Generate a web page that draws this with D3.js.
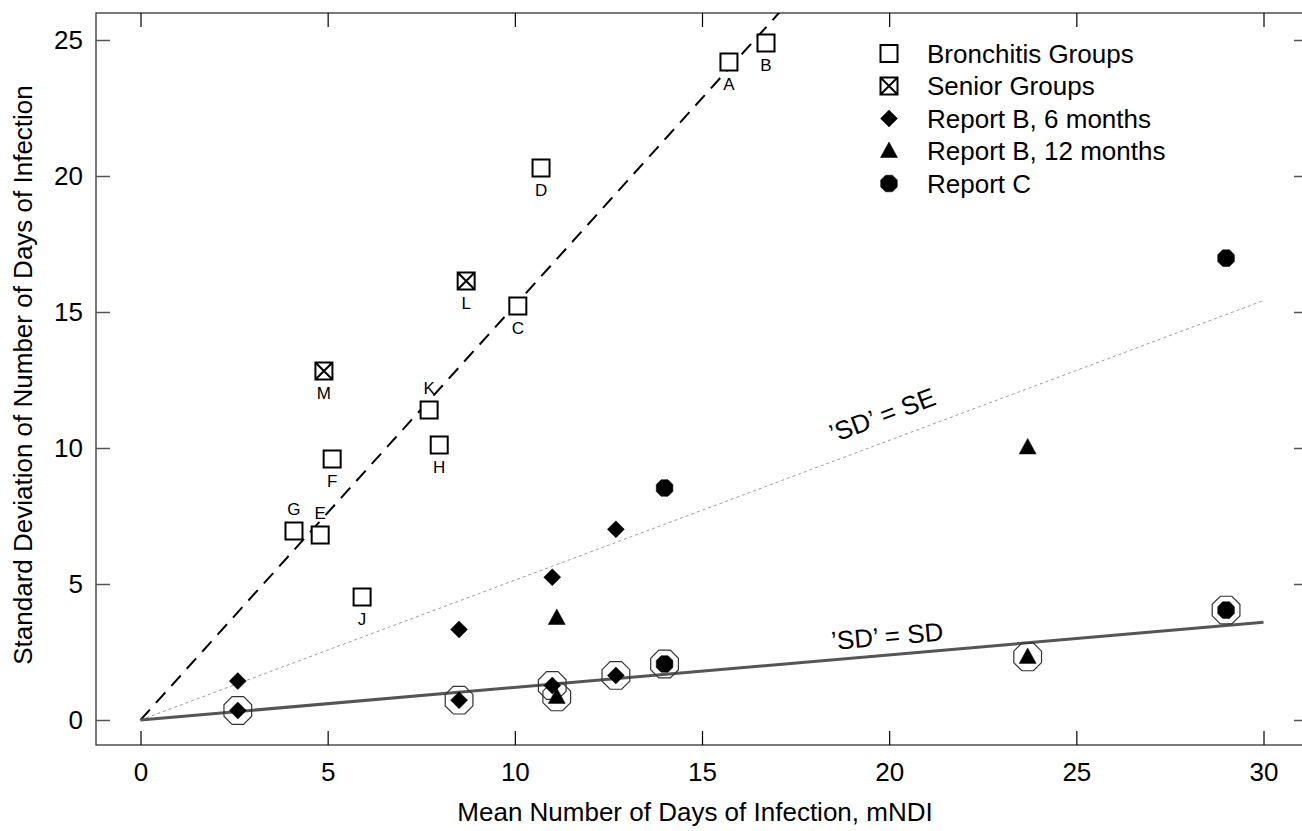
<!DOCTYPE html>
<html>
<head>
<meta charset="utf-8">
<script src="https://cdn.jsdelivr.net/npm/d3@7"></script>
<style>
  html, body { margin: 0; padding: 0; background: #fff; }
  svg { display: block; font-family: "Liberation Sans", Arial, sans-serif; }
</style>
</head>
<body>
<div id="chart"></div>
<script>
// Bronchitis groups (open squares)
const bronchLabels = ["A", "B", "C", "D", "E", "F", "G", "H", "J", "K"];
const bronchX = [15.72, 16.71, 10.08, 10.70, 4.80, 5.12, 4.10, 7.98, 5.92, 7.71];
const bronchY = [24.19, 24.89, 15.22, 20.29, 6.80, 9.60, 6.95, 10.11, 4.52, 11.40];
const labelsAbove = ["E", "G", "K"];

// Senior groups (crossed squares)
const seniorLabels = ["L", "M"];
const seniorX = [8.70, 4.90];
const seniorY = [16.14, 12.83];

// Report B, 6 months (diamonds); ringed = also marked with an octagon
const b6X = [2.6, 8.51, 11.0, 12.7, 2.6, 8.51, 11.0, 12.7];
const b6Y = [1.43, 3.33, 5.25, 7.01, 0.35, 0.73, 1.27, 1.64];
const b6Ringed = [false, false, false, false, true, true, true, true];

// Report B, 12 months (triangles)
const b12X = [11.12, 23.70, 11.12, 23.70];
const b12Y = [3.75, 10.02, 0.85, 2.32];
const b12Ringed = [false, false, true, true];

// Report C (filled octagons)
const cX = [14.0, 29.0, 14.0, 29.0];
const cY = [8.53, 16.98, 2.06, 4.04];
const cRinged = [false, false, true, true];

// reference lines through the origin: slope and end of x range
const lineNames = ["fit", "SE", "SD"];
const lineSlopes = [1.524, 0.514, 0.1197];
const lineXEnd = [30, 30, 30];
const lineLabels = [null, "’SD’ = SE", "’SD’ = SD"];
const lineLabelX = [null, 18.51, 18.47];
const lineLabelY = [null, 10.18, 2.57];

const xTicks = [0, 5, 10, 15, 20, 25, 30];
const yTicks = [0, 5, 10, 15, 20, 25];

const legendNames = ["Bronchitis Groups", "Senior Groups", "Report B, 6 months", "Report B, 12 months", "Report C"];
const legendShapes = ["square", "xsquare", "diamond", "triangle", "octagon"];

// Chart dimensions
const width = 1302;
const height = 831;
const frame = { left: 96, top: 13, right: 1308, bottom: 745 };

const svg = d3.select("#chart")
  .append("svg")
  .attr("width", width)
  .attr("height", height);

// Scales
const x = d3.scaleLinear().domain([0, 30]).range([140.5, 1263.5]);
const y = d3.scaleLinear().domain([0, 25]).range([720, 40]);

// marker path builders
function octagon(r) {
  const pts = d3.range(8).map(k => {
    const a = Math.PI / 8 + k * Math.PI / 4;
    return [r * Math.cos(a), r * Math.sin(a)];
  });
  return "M" + pts.map(p => p.join(",")).join("L") + "Z";
}
const shapePaths = {
  square: "M-8.5,-8.5H8.5V8.5H-8.5Z",
  xsquare: "M-8.5,-8.5H8.5V8.5H-8.5ZM-8.5,-8.5L8.5,8.5M8.5,-8.5L-8.5,8.5",
  diamond: "M0,-8.5L8.5,0L0,8.5L-8.5,0Z",
  triangle: "M0,-9L8.5,6.5L-8.5,6.5Z",
  octagon: octagon(9)
};
function drawShape(g, shape) {
  const open = shape === "square" || shape === "xsquare";
  return g.append("path")
    .attr("d", shapePaths[shape])
    .attr("fill", open ? "#fff" : "#000")
    .attr("stroke", "#000")
    .attr("stroke-width", open ? 2 : 0.5);
}

// Clip for the plot area
svg.append("clipPath").attr("id", "plotclip")
  .append("rect")
  .attr("x", frame.left).attr("y", frame.top)
  .attr("width", frame.right - frame.left).attr("height", frame.bottom - frame.top);

// Frame
svg.append("rect")
  .attr("x", frame.left).attr("y", frame.top)
  .attr("width", frame.right - frame.left).attr("height", frame.bottom - frame.top)
  .attr("fill", "none")
  .attr("stroke", "#222")
  .attr("stroke-width", 1.2);

// Axes
const bottomAxis = svg.append("g")
  .attr("transform", `translate(0,${frame.bottom})`)
  .call(d3.axisBottom(x).tickValues(xTicks).tickSize(-14).tickPadding(18).tickFormat(d3.format("d")));
const topAxis = svg.append("g")
  .attr("transform", `translate(0,${frame.top})`)
  .call(d3.axisTop(x).tickValues(xTicks).tickSize(-14).tickFormat(""));
const leftAxis = svg.append("g")
  .attr("transform", `translate(${frame.left},0)`)
  .call(d3.axisLeft(y).tickValues(yTicks).tickSize(-14).tickPadding(13).tickFormat(d3.format("d")));
const rightAxis = svg.append("g")
  .attr("transform", `translate(${frame.right},0)`)
  .call(d3.axisRight(y).tickValues(yTicks).tickSize(-14).tickFormat(""));

[bottomAxis, topAxis, leftAxis, rightAxis].forEach(a => {
  a.select(".domain").remove();
  a.selectAll("text")
    .style("font-family", "'Liberation Sans', Arial, sans-serif")
    .style("font-size", "26px")
    .style("fill", "#000");
});
[bottomAxis, topAxis].forEach(a => a.selectAll("line").attr("stroke", "#000").attr("stroke-width", 1.2));
[leftAxis, rightAxis].forEach(a => a.selectAll("line").attr("stroke", "#555").attr("stroke-width", 1.5));

// Axis titles
svg.append("text")
  .attr("x", 695)
  .attr("y", 821)
  .attr("text-anchor", "middle")
  .style("font-size", "26px")
  .text("Mean Number of Days of Infection, mNDI");

svg.append("text")
  .attr("transform", "rotate(-90)")
  .attr("x", -375)
  .attr("y", 32)
  .attr("text-anchor", "middle")
  .style("font-size", "26px")
  .text("Standard Deviation of Number of Days of Infection");

// Reference lines
const lineStyles = [
  { stroke: "#000", width: 2, dash: "14,9" },
  { stroke: "#999", width: 1, dash: "3,3" },
  { stroke: "#555", width: 3, dash: null }
];
const plot = svg.append("g").attr("clip-path", "url(#plotclip)");
lineNames.forEach((name, i) => {
  const pts = [[0, 0], [lineXEnd[i], lineSlopes[i] * lineXEnd[i]]];
  plot.append("path")
    .attr("class", "ref-" + name)
    .attr("d", d3.line().x(d => x(d[0])).y(d => y(d[1]))(pts))
    .attr("fill", "none")
    .attr("stroke", lineStyles[i].stroke)
    .attr("stroke-width", lineStyles[i].width)
    .attr("stroke-dasharray", lineStyles[i].dash);
  if (lineLabels[i]) {
    const pxSlope = lineSlopes[i] * (y(0) - y(1)) / (x(1) - x(0));
    const angle = -Math.atan(pxSlope) * 180 / Math.PI;
    svg.append("text")
      .attr("transform", `translate(${x(lineLabelX[i])},${y(lineLabelY[i])}) rotate(${angle})`)
      .style("font-size", "26px")
      .text(lineLabels[i]);
  }
});

// Octagon rings around marked points
const ringed = [];
b6X.forEach((v, i) => { if (b6Ringed[i]) ringed.push([v, b6Y[i]]); });
b12X.forEach((v, i) => { if (b12Ringed[i]) ringed.push([v, b12Y[i]]); });
cX.forEach((v, i) => { if (cRinged[i]) ringed.push([v, cY[i]]); });
svg.selectAll(".ring")
  .data(ringed)
  .enter()
  .append("path")
  .attr("class", "ring")
  .attr("transform", d => `translate(${x(d[0])},${y(d[1])})`)
  .attr("d", octagon(15))
  .attr("fill", "none")
  .attr("stroke", "#333")
  .attr("stroke-width", 1.2);

// Point series
function drawSeries(xs, ys, shape) {
  xs.forEach((v, i) => {
    const g = svg.append("g").attr("transform", `translate(${x(v)},${y(ys[i])})`);
    drawShape(g, shape);
  });
}
drawSeries(bronchX, bronchY, "square");
drawSeries(seniorX, seniorY, "xsquare");
drawSeries(b6X, b6Y, "diamond");
drawSeries(b12X, b12Y, "triangle");
drawSeries(cX, cY, "octagon");

// Group letters
function drawLetters(labels, xs, ys) {
  svg.selectAll(null)
    .data(labels)
    .enter()
    .append("text")
    .attr("x", (d, i) => x(xs[i]))
    .attr("y", (d, i) => y(ys[i]) + (labelsAbove.includes(d) ? -22 : 22))
    .attr("dy", "0.36em")
    .attr("text-anchor", "middle")
    .style("font-size", "17px")
    .text(d => d);
}
drawLetters(bronchLabels, bronchX, bronchY);
drawLetters(seniorLabels, seniorX, seniorY);

// Legend
const legend = svg.append("g").attr("transform", "translate(889,53.5)");
legendNames.forEach((name, i) => {
  const row = legend.append("g").attr("transform", `translate(0,${i * 32.5})`);
  drawShape(row, legendShapes[i]);
  row.append("text")
    .attr("x", 38)
    .attr("dy", "0.36em")
    .style("font-size", "26px")
    .text(name);
});
</script>
</body>
</html>
